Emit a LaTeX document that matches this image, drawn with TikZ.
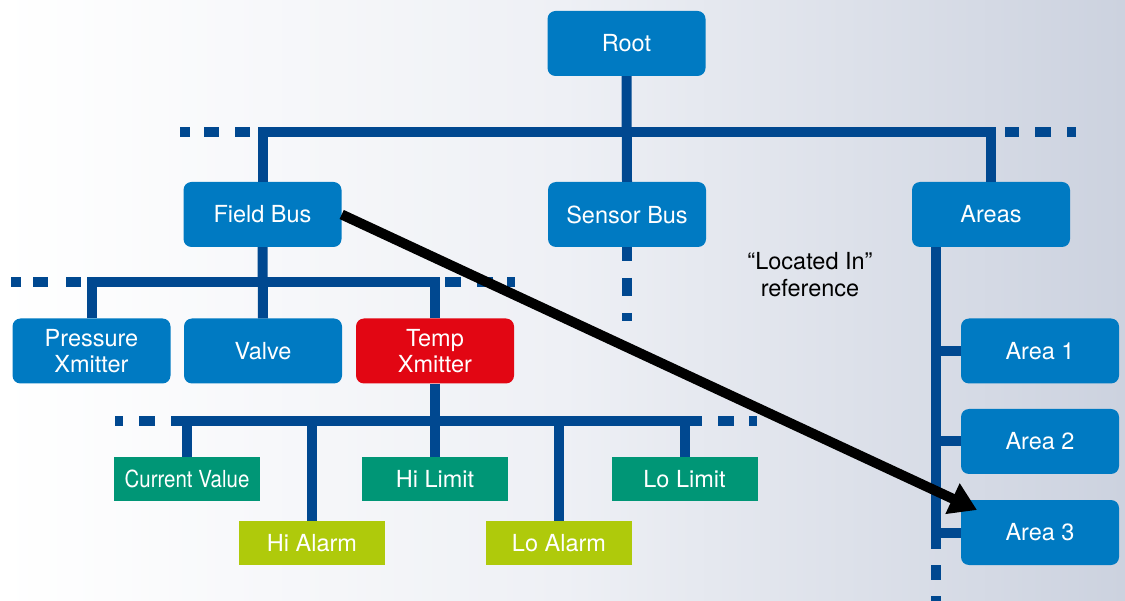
\documentclass[tikz,border=0pt]{standalone}
\usepackage{fontspec}
\setmainfont{TeX Gyre Heros}
\usetikzlibrary{arrows.meta}
\definecolor{boxblue}{RGB}{0,122,194}
\definecolor{busblue}{RGB}{0,72,144}
\definecolor{tempred}{RGB}{226,6,19}
\definecolor{leafteal}{RGB}{0,150,118}
\definecolor{leaflime}{RGB}{175,202,11}
\definecolor{bgmid}{RGB}{238,240,245}
\definecolor{bgright}{RGB}{204,210,223}
\begin{document}
\begin{tikzpicture}[x=1pt, y=-1pt, line join=miter, font=\fontsize{23.5}{25.5}\selectfont,
	bus/.style={draw=busblue, line width=10pt},
	box/.style={rectangle, rounded corners=8pt, fill=boxblue, text=white, minimum width=158pt, minimum height=65pt, inner sep=0pt, align=center},
	leaf/.style={rectangle, fill=leafteal, text=white, minimum width=146pt, minimum height=44pt, inner sep=0pt},
	alarm/.style={leaf, fill=leaflime},
	locref/.style={line width=10pt, -{Triangle[length=27pt,width=32pt]}}]
	\def\busA{132} % y of the buses
	\def\busB{282}
	\def\busC{421}
	\useasboundingbox (0,0) rectangle (1125,601);
	\shade[left color=white, right color=bgright, middle color=bgmid] (0,0) rectangle (1125,601);
	\node[box] (root) at (626.5,43.5) {Root};
	\node[box] (fieldbus) at (262.5,214.5) {Field Bus};
	\node[box] (sensorbus) at (627,214.5) {Sensor Bus};
	\node[box] (areas) at (991,214.5) {Areas};
	\node[box] (pressure) at (91.5,351) {Pressure\\Xmitter};
	\node[box] (valve) at (263,351) {Valve};
	\node[box, fill=tempred] (temp) at (435,351) {Temp\\Xmitter};
	\node[leaf] (curval) at (187,479) {\scalebox{0.87}[1]{Current Value}};
	\node[leaf] (hilimit) at (435,479) {Hi Limit};
	\node[leaf] (lolimit) at (684.5,479) {Lo Limit};
	\node[alarm] (hialarm) at (312,543) {Hi Alarm};
	\node[alarm] (loalarm) at (559,543) {Lo Alarm};
	\node[box] (area1) at (1040,351) {Area 1};
	\node[box] (area2) at (1040,441.5) {Area 2};
	\node[box] (area3) at (1040,532.5) {Area 3};
	\node[align=center, font=\fontsize{23.5}{27}\selectfont, text=black] (locnote) at (810,275) {“Located In”\\reference};
	% buses
	\draw[bus] (root.south) -- (sensorbus.north);
	\draw[bus] (fieldbus.north) -- ++(0,-50) -| (areas.north);
	\draw[bus] (fieldbus.south) -- (valve.north);
	\draw[bus] (pressure.north) -- ++(0,-36.5) -| (temp.north);
	\coordinate (sigL) at (171,\busC);
	\coordinate (sigR) at (702,\busC);
	\draw[bus] (sigL) -- (sigR);
	\draw[bus] (temp.south) -- (temp.south |- sigL);
	\foreach \n in {curval,hialarm,hilimit,loalarm,lolimit}
		\draw[bus] (\n.north) -- (\n.north |- sigL);
	\coordinate (spine) at (936,549);
	\draw[bus] (spine |- areas.south) -- (spine);
	\foreach \n in {area1,area2,area3}
		\draw[bus] (\n.west) -- (\n.west -| spine);
	% dashed ends
	\foreach \a/\b in {180/190,204/219,235/250,1005/1019,1035/1051,1067/1076}
		\draw[bus] (\a,\busA) -- (\b,\busA);
	\foreach \a/\b in {11/21,33/48,66/81,445/461,477/493,507/515}
		\draw[bus] (\a,\busB) -- (\b,\busB);
	\foreach \a/\b in {115/123,139/155,718/734,749/757}
		\draw[bus] (\a,\busC) -- (\b,\busC);
	\foreach \a/\b in {247/261,278/296,313/321}
		\draw[bus] (626.5,\a) -- (626.5,\b);
	\foreach \a/\b in {565/580,596/611}
		\draw[bus] (936,\a) -- (936,\b);
	\coordinate (loctip) at (977,510);
	\draw[locref] (fieldbus.east) -- (loctip);
\end{tikzpicture}
\end{document}
